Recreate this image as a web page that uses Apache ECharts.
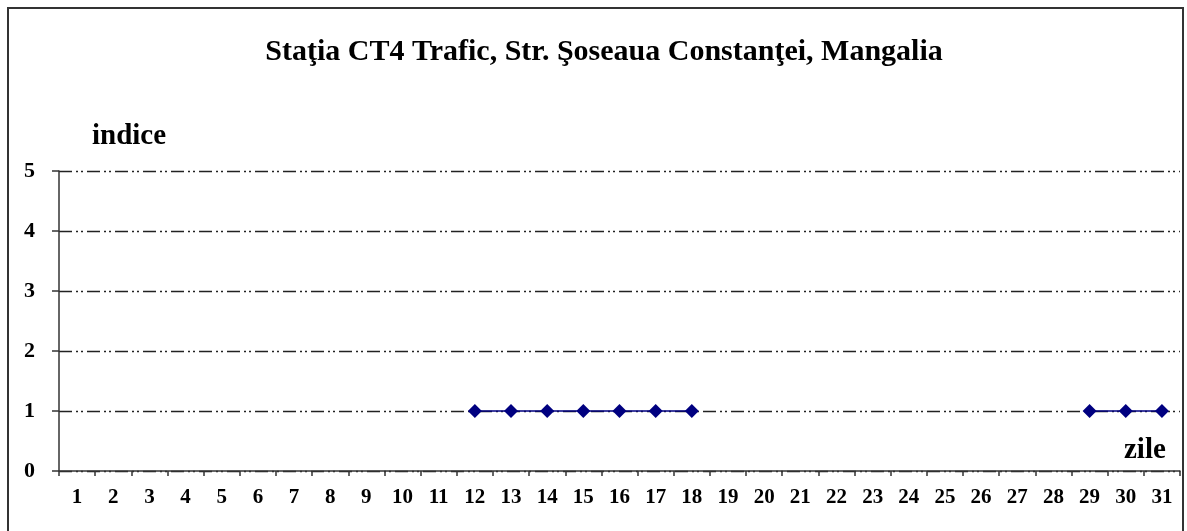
<!DOCTYPE html>
<html>
<head>
<meta charset="utf-8">
<script src="https://cdn.jsdelivr.net/npm/echarts@6/dist/echarts.min.js"></script>
<style>
  html, body { margin: 0; padding: 0; background: #fff; }
  #chart { width: 1187px; height: 531px; }
</style>
</head>
<body>
<div id="chart"></div>
<script>
// ========== 数据 ==========
const days = [];
for (let d = 1; d <= 31; d++) days.push(String(d));

// indice per day (empty days have no value)
const indiceValues = [
    null, null, null, null, null, null, null, null, null, null, null,
    1, 1, 1, 1, 1, 1, 1,
    null, null, null, null, null, null, null, null, null, null,
    1, 1, 1
];

const yTicks = [0, 1, 2, 3, 4, 5];

const titleText = 'Staţia CT4 Trafic, Str. Şoseaua Constanţei, Mangalia';

// ========== 图表 ==========
const myChart = echarts.init(document.getElementById('chart'));
const serif = '"Liberation Serif", "DejaVu Serif", serif';

const option = {
    animation: false,
    backgroundColor: '#fff',
    title: {
        text: titleText,
        left: 599,
        top: 32,
        textAlign: 'center',
        textStyle: { fontFamily: serif, fontWeight: 'bold', fontSize: 30, color: '#000' }
    },
    graphic: [
        {
            type: 'rect',
            shape: { x: 8, y: 8, width: 1175, height: 600 },
            style: { fill: 'none', stroke: '#333', lineWidth: 2 }
        },
        {
            type: 'text', left: 92, top: 122,
            style: { text: 'indice', font: 'bold 29px ' + serif, fill: '#000' }
        },
        {
            type: 'text', left: 1124, top: 436,
            style: { text: 'zile', font: 'bold 29px ' + serif, fill: '#000' }
        }
    ],
    grid: { left: 59, right: 7, top: 171, bottom: 60 },
    xAxis: {
        type: 'category',
        data: days,
        boundaryGap: true,
        axisLine: { lineStyle: { color: '#333', width: 1.5 } },
        axisTick: { show: true, alignWithLabel: false, length: 5, lineStyle: { color: '#333', width: 1.5 } },
        axisLabel: {
            interval: 0, margin: 16,
            fontFamily: serif, fontWeight: 'bold', fontSize: 21, color: '#000'
        },
        splitLine: { show: false }
    },
    yAxis: {
        type: 'value',
        min: yTicks[0],
        max: yTicks[yTicks.length - 1],
        interval: 1,
        axisLine: { show: true, lineStyle: { color: '#333', width: 1.5 } },
        axisTick: { show: true, inside: false, length: 7, lineStyle: { color: '#333', width: 1.5 } },
        axisLabel: {
            margin: 24,
            fontFamily: serif, fontWeight: 'bold', fontSize: 22, color: '#000'
        },
        splitLine: {
            lineStyle: { color: '#222', width: 1.3, type: [13, 4, 2, 3, 2, 4] }
        }
    },
    series: [{
        type: 'line',
        data: indiceValues,
        connectNulls: false,
        symbol: 'diamond',
        symbolSize: 14,
        itemStyle: { color: '#000080' },
        lineStyle: { color: '#000080', width: 1.5 }
    }]
};

myChart.setOption(option);
</script>
</body>
</html>
